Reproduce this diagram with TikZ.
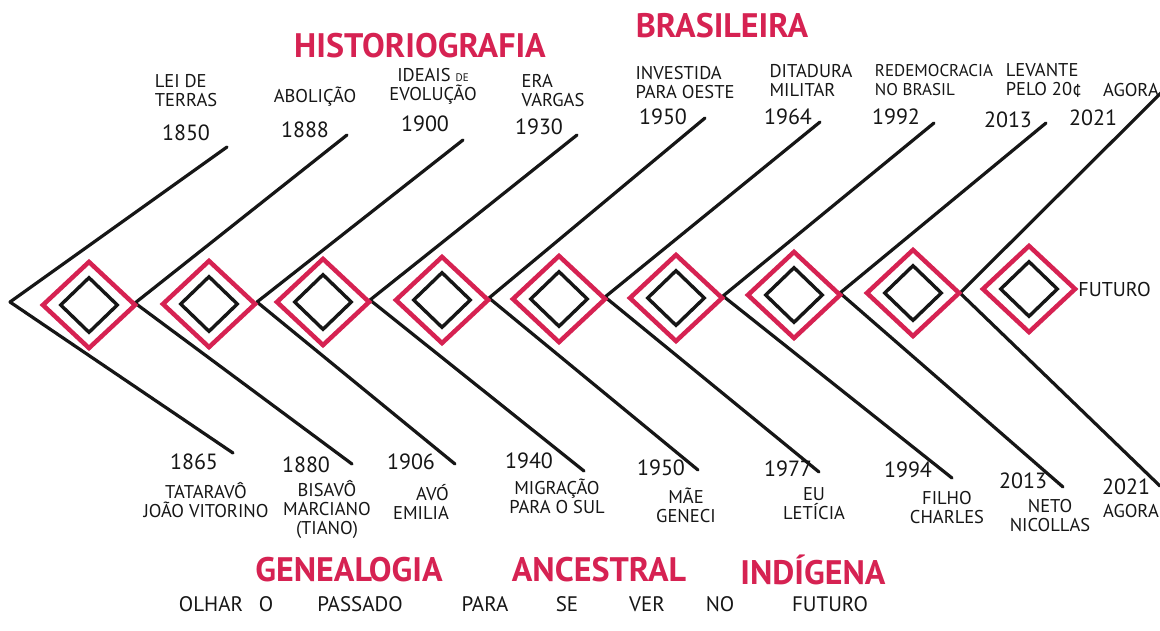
\documentclass[tikz,border=0pt]{standalone}
\usepackage{fontspec}
\setmainfont{PT Sans}
\usetikzlibrary{shapes.geometric}
\definecolor{marcador}{RGB}{214,34,82}
\definecolor{tinta}{RGB}{22,22,22}

\begin{document}
\begin{tikzpicture}[x=1pt, y=-1pt,
	every node/.style={font=\fontsize{18.5}{19}\selectfont, inner sep=0pt, text=tinta},
	linha/.style={draw=tinta, line width=3.2pt, line cap=round},
	losango/.style={diamond, draw=marcador, line width=4.5pt, minimum width=94pt, minimum height=88pt, inner sep=0pt},
	miolo/.style={diamond, draw=tinta, line width=3.4pt, minimum width=58pt, minimum height=56pt, inner sep=0pt},
	ano/.style={font=\fontsize{22}{22}\selectfont},
	titulo/.style={font=\fontsize{34}{36}\selectfont\bfseries, text=marcador},
	lema/.style={font=\fontsize{21}{22}\selectfont}]
	\useasboundingbox (0,0) rectangle (1160,630);
	\fill[white] (0,0) rectangle (1160,630);

	% titles
	\node[titulo] (hist) at (420,46) {HISTORIOGRAFIA};
	\node[titulo] (bras) at (722,26) {BRASILEIRA};
	\node[titulo] (gen) at (349,570) {GENEALOGIA};
	\node[titulo] (anc) at (599,570) {ANCESTRAL};
	\node[titulo] (ind) at (813,570) {INDÍGENA};

	% chevrons
	\foreach \n/\x/\y in {0/10/302, 1/135/303, 2/257/302, 3/370/300, 4/489/298, 5/605/297, 6/723/296, 7/840/293, 8/960/293}
		\coordinate (v\n) at (\x,\y);
	\foreach \n/\x/\y in {0/227/147, 1/347/135, 2/463/140, 3/577/135, 4/705/118, 5/820/122, 6/934/123, 7/1046/123, 8/1166/88}
		\coordinate (t\n) at (\x,\y);
	\foreach \n/\x/\y in {0/233/453, 1/352/464, 2/455/464, 3/584/471, 4/698/470, 5/819/472, 6/952/478, 7/1063/487, 8/1160/486}
		\coordinate (b\n) at (\x,\y);
	\foreach \n in {0,...,8} {
		\draw[linha] (v\n) -- (t\n);
		\draw[linha] (v\n) -- (b\n);
	}

	% diamonds
	\foreach \n/\x/\y in {0/89/305, 1/209/304, 2/323/302, 3/442/300, 4/559/299, 5/676/298, 6/794/295, 7/913/293, 8/1029/289} {
		\node[losango] (d\n) at (\x,\y) {};
		\node[miolo] (m\n) at (\x,\y) {};
	}
	\node[anchor=west, font=\fontsize{20}{22}\selectfont] (futuro) at (d8.east) {FUTURO};

	% historiography
	\foreach \n/\x/\y/\a in {0/186/133/1850, 1/305/130/1888, 2/425/124/1900, 3/539/127/1930, 4/663/117/1950, 5/788/117/1964, 6/896/117/1992, 7/1008/120/2013, 8/1093/118/2021}
		\node[ano] (ano\n) at (\x,\y) {\a};
	\node[align=left] (ev0) at (186,91) {LEI DE\\TERRAS};
	\node (ev1) at (315,97) {ABOLIÇÃO};
	\node[align=center] (ev2) at (433,86) {IDEAIS {\fontsize{11}{12}\selectfont DE}\\EVOLUÇÃO};
	\node[align=left] (ev3) at (553,91) {ERA\\VARGAS};
	\node[align=left] (ev4) at (685,83) {INVESTIDA\\PARA OESTE};
	\node[align=left] (ev5) at (811,80) {DITADURA\\MILITAR};
	\node[align=left, font=\fontsize{17}{19}\selectfont] (ev6) at (934,80) {REDEMOCRACIA\\NO BRASIL};
	\node[align=left] (ev7) at (1044,80) {LEVANTE\\PELO 20¢};
	\node[anchor=east] (ev8) at (1159,90) {AGORA};

	% genealogy
	\foreach \n/\x/\y/\a in {0/194/462/1865, 1/306/465/1880, 2/411/462/1906, 3/529/461/1940, 4/661/468/1950, 5/788/469/1977, 6/908/470/1994, 7/1023/481/2013, 8/1126/487/2021}
		\node[ano] (nasc\n) at (\x,\y) {\a};
	\node[align=center] (nm0) at (206,500) {TATARAVÔ\\JOÃO VITORINO};
	\node[align=center] (nm1) at (327,509) {BISAVÔ\\MARCIANO\\(TIANO)};
	\node[align=right] (nm2) at (421,502) {AVÓ\\EMILIA};
	\node[align=center] (nm3) at (557,496) {MIGRAÇÃO\\PARA O SUL};
	\node[align=center] (nm4) at (686,505) {MÃE\\GENECI};
	\node[align=center] (nm5) at (814,504) {EU\\LETÍCIA};
	\node[align=center] (nm6) at (947,508) {FILHO\\CHARLES};
	\node[align=center] (nm7) at (1050,516) {NETO\\NICOLLAS};
	\node[anchor=east] (nm8) at (1159,511) {AGORA};

	% motto
	\foreach \n/\x/\p in {0/211/OLHAR, 1/266/O, 2/360/PASSADO, 3/485/PARA, 4/567/SE, 5/647/VER, 6/720/NO, 7/830/FUTURO}
		\node[lema] (lema\n) at (\x,604) {\p};
\end{tikzpicture}
\end{document}
